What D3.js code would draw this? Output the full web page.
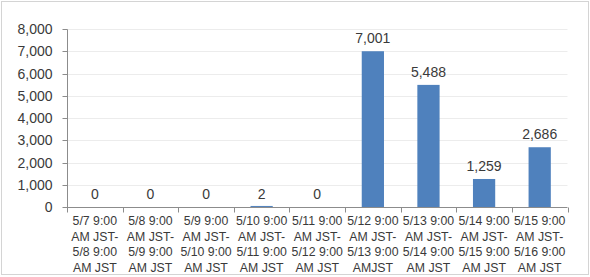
<!DOCTYPE html>
<html><head><meta charset="utf-8">
<script src="https://cdn.jsdelivr.net/npm/d3@7"></script>
<style>body{margin:0;background:#fff}svg{display:block}</style>
</head><body>
<svg id="c" width="590" height="277"></svg>
<script>
const categories = [
  ["5/7 9:00","AM JST-","5/8 9:00","AM JST"],
  ["5/8 9:00","AM JST-","5/9 9:00","AM JST"],
  ["5/9 9:00","AM JST-","5/10 9:00","AM JST"],
  ["5/10 9:00","AM JST-","5/11 9:00","AM JST"],
  ["5/11 9:00","AM JST-","5/12 9:00","AM JST"],
  ["5/12 9:00","AM JST-","5/13 9:00","AMJST"],
  ["5/13 9:00","AM JST-","5/14 9:00","AM JST"],
  ["5/14 9:00","AM JST-","5/15 9:00","AM JST"],
  ["5/15 9:00","AM JST-","5/16 9:00","AM JST"]
];
const values = [0, 0, 0, 2, 0, 7001, 5488, 1259, 2686];
const yTicks = [0, 1000, 2000, 3000, 4000, 5000, 6000, 7000, 8000];

(function(){
const svg = d3.select("#c");
const font = "'Liberation Sans', Arial, sans-serif";
const txt = "#3a3a3a";
svg.append("rect").attr("x",1.5).attr("y",1.5).attr("width",587).attr("height",273)
  .attr("fill","#fff").attr("stroke","#d4d4d4").attr("stroke-width",1);

const pL = 67, pR = 567.5, pT = 29, pB = 207;
const x = d3.scaleBand().domain(d3.range(categories.length)).range([pL, pR]).paddingInner(0.6).paddingOuter(0.3);
const xb = d3.scaleBand().domain(d3.range(categories.length)).range([pL, pR]);
const y = d3.scaleLinear().domain([0, 8000]).range([pB, pT]);

svg.append("g").selectAll("line").data(yTicks.filter(d=>d>0)).join("line")
  .attr("x1", pL).attr("x2", pR).attr("y1", d=>Math.round(y(d))+0.5).attr("y2", d=>Math.round(y(d))+0.5)
  .attr("stroke", "#ececec");

svg.append("g").selectAll("rect").data(values).join("rect")
  .attr("x", (d,i)=>x(i)).attr("width", x.bandwidth())
  .attr("y", d=>y(d) - (d>0 && y(0)-y(d)<1 ? 1 : 0)).attr("height", d=>Math.max(y(0)-y(d), d>0?1:0))
  .attr("fill", "#4f81bd");

svg.append("g").selectAll("text").data(values).join("text")
  .attr("x", (d,i)=>x(i)+x.bandwidth()/2).attr("y", d=>y(d)-8)
  .attr("text-anchor","middle").attr("font-family",font).attr("font-size",14).attr("fill",txt)
  .text(d=>d3.format(",")(d));

const ya = d3.axisLeft(y).tickValues(yTicks).tickFormat(d3.format(",")).tickSize(5).tickPadding(10);
const yg = svg.append("g").attr("transform",`translate(${pL+0.5},0)`).call(ya);
yg.selectAll("text").attr("font-family",font).attr("font-size",14).attr("fill",txt);
yg.select(".domain").attr("stroke","#8c8c8c").attr("d",`M0,${pT+0.5}V${pB+0.5}`);
yg.selectAll(".tick line").attr("stroke","#8c8c8c");
yg.selectAll(".tick").attr("transform", d=>`translate(0,${Math.round(y(d))+0.5})`);

const xa = d3.axisBottom(xb).tickSize(0).tickFormat(()=> "");
const xg = svg.append("g").attr("transform",`translate(0,${pB+0.5})`).call(xa);
xg.select(".domain").attr("stroke","#8c8c8c").attr("d",`M${pL},0H${pR}`);
xg.append("g").selectAll("line").data(d3.range(categories.length+1)).join("line")
  .attr("x1", i=>Math.round(pL + i*xb.step())+0.5).attr("x2", i=>Math.round(pL + i*xb.step())+0.5)
  .attr("y1",0).attr("y2",5).attr("stroke","#8c8c8c");
const lab = svg.append("g").selectAll("text").data(categories).join("text")
  .attr("x",(d,i)=>xb(i)+xb.bandwidth()/2).attr("y",225)
  .attr("text-anchor","middle").attr("font-family",font).attr("font-size",12.3).attr("fill",txt);
lab.selectAll("tspan").data(d=>d).join("tspan")
  .attr("x", function(){return this.parentNode.getAttribute("x");})
  .attr("dy",(d,j)=>j===0?0:15.5).text(d=>d);
})();
</script>
</body></html>
